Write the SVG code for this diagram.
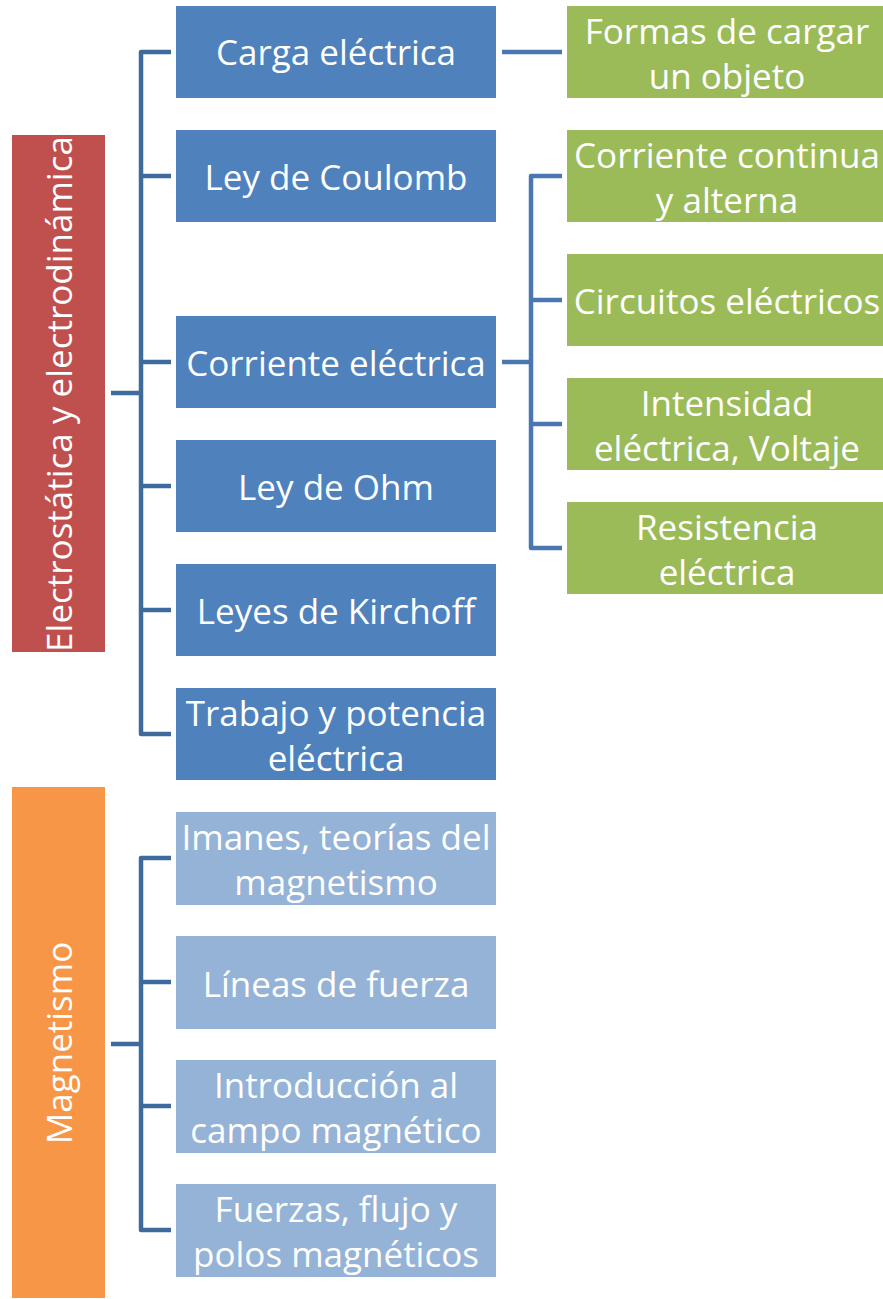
<svg xmlns="http://www.w3.org/2000/svg" width="883" height="1299" viewBox="0 0 883 1299">
<style>
.t{font-family:"Open Sans","Noto Sans","Liberation Sans",sans-serif;font-size:35px;fill:#fff;text-anchor:middle}
.b{fill:#4F81BD}
.lb{fill:#95B3D7}
.g{fill:#9BBB59}
.cl{fill:none;stroke:#3F6A9E;stroke-width:4.5;stroke-linejoin:round}
.cr{fill:none;stroke:#4A77B2;stroke-width:4.5;stroke-linejoin:round}
</style>
<rect width="883" height="1299" fill="#fff"/>
<g id="connectors">
<path class="cl" d="M111 393H141M171 52H141V734H171M141 176H171M141 362H171M141 486H171M141 610H171"/>
<path class="cl" d="M111 1044H141M171 858H141V1230H171M141 982H171M141 1106H171"/>
<path class="cr" d="M502 52H562"/>
<path class="cr" d="M502 362H531M562 176H531V548H562M531 300H562M531 424H562"/>
</g>
<g id="n-electro"><rect x="12" y="135" width="93" height="517" fill="#C0504D"/><text class="t" transform="translate(72 394) rotate(-90)">Electrostática y electrodinámica</text></g>
<g id="n-magnet"><rect x="12" y="787" width="93" height="511" fill="#F79646"/><text class="t" transform="translate(72 1043) rotate(-90)">Magnetismo</text></g>
<g id="n-carga"><rect class="b" x="176" y="6" width="320" height="92"/><text class="t" x="336" y="65">Carga eléctrica</text></g>
<g id="n-coulomb"><rect class="b" x="176" y="130" width="320" height="92"/><text class="t" x="336" y="190">Ley de Coulomb</text></g>
<g id="n-corriente"><rect class="b" x="176" y="316" width="320" height="92"/><text class="t" x="336" y="376">Corriente eléctrica</text></g>
<g id="n-ohm"><rect class="b" x="176" y="440" width="320" height="92"/><text class="t" x="336" y="500">Ley de Ohm</text></g>
<g id="n-kirchoff"><rect class="b" x="176" y="564" width="320" height="92"/><text class="t" x="336" y="624">Leyes de Kirchoff</text></g>
<g id="n-trabajo"><rect class="b" x="176" y="688" width="320" height="92"/><text class="t" x="336" y="726">Trabajo y potencia</text><text class="t" x="336" y="771">eléctrica</text></g>
<g id="n-imanes"><rect class="lb" x="176" y="812" width="320" height="93"/><text class="t" x="336" y="850">Imanes, teorías del</text><text class="t" x="336" y="895">magnetismo</text></g>
<g id="n-lineas"><rect class="lb" x="176" y="936" width="320" height="93"/><text class="t" x="336" y="997">Líneas de fuerza</text></g>
<g id="n-intro"><rect class="lb" x="176" y="1060" width="320" height="93"/><text class="t" x="336" y="1098">Introducción al</text><text class="t" x="336" y="1143">campo magnético</text></g>
<g id="n-fuerzas"><rect class="lb" x="176" y="1184" width="320" height="93"/><text class="t" x="336" y="1222">Fuerzas, flujo y</text><text class="t" x="336" y="1267">polos magnéticos</text></g>
<g id="n-formas"><rect class="g" x="567" y="6" width="316" height="92"/><text class="t" x="727" y="44">Formas de cargar</text><text class="t" x="727" y="89">un objeto</text></g>
<g id="n-continua"><rect class="g" x="567" y="130" width="316" height="92"/><text class="t" x="727" y="168">Corriente continua</text><text class="t" x="727" y="213">y alterna</text></g>
<g id="n-circuitos"><rect class="g" x="567" y="254" width="316" height="92"/><text class="t" x="727" y="314">Circuitos eléctricos</text></g>
<g id="n-intensidad"><rect class="g" x="567" y="378" width="316" height="92"/><text class="t" x="727" y="416">Intensidad</text><text class="t" x="727" y="461">eléctrica, Voltaje</text></g>
<g id="n-resistencia"><rect class="g" x="567" y="502" width="316" height="92"/><text class="t" x="727" y="540">Resistencia</text><text class="t" x="727" y="585">eléctrica</text></g>
</svg>
